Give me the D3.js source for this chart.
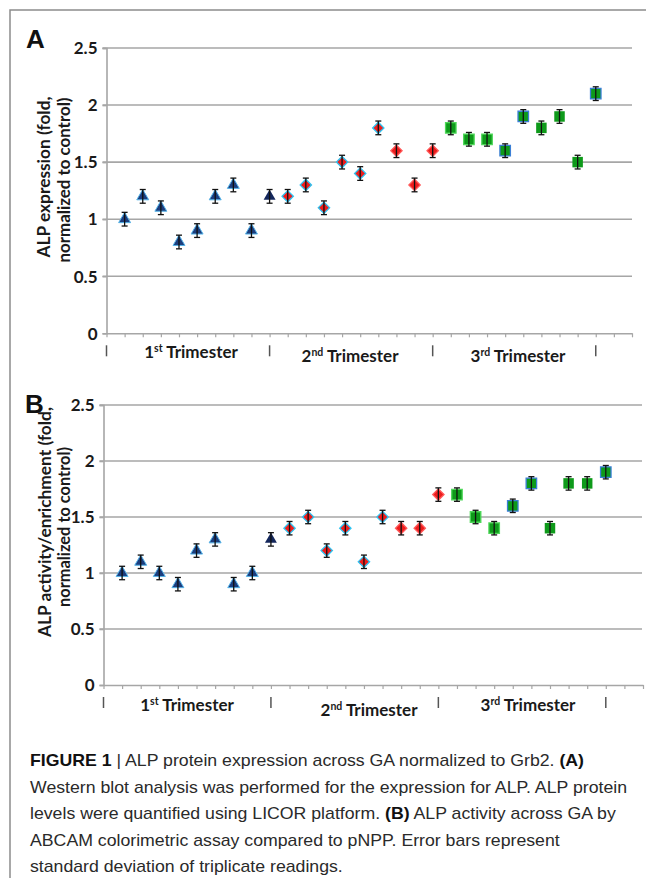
<!DOCTYPE html>
<html>
<head>
<meta charset="utf-8">
<script src="https://cdn.jsdelivr.net/npm/d3@7"></script>
<style>
  body { margin: 0; background: #fff; }
  .tick-label { font-family: Lato, "DejaVu Sans", sans-serif; font-weight: 700; font-size: 17px; fill: #1a1a1a; }
  .axis-title { font-family: Lato, "DejaVu Sans", sans-serif; font-weight: 700; font-size: 16.5px; fill: #1a1a1a; }
  .tri-label { font-family: Lato, "DejaVu Sans", sans-serif; font-weight: 700; font-size: 17px; fill: #1a1a1a; }
  .panel-letter { font-family: "Liberation Sans", Arial, sans-serif; font-weight: 700; font-size: 26px; fill: #111; }
  .caption { font-family: "Liberation Sans", Arial, sans-serif; font-size: 17px; fill: #2a2a2a; }
</style>
</head>
<body>
<div id="chart"></div>
<script>
// Sample positions along the x axis (one per placenta sample)
var samples = [1, 2, 3, 4, 5, 6, 7, 8, 9, 10, 11, 12, 13, 14, 15, 16, 17, 18, 19, 20, 21, 22, 23, 24, 25, 26, 27];

// Trimester groups: label parts and the sample positions of the separators
var trimesterNames = [["1", "st"], ["2", "nd"], ["3", "rd"]];
var trimesterBreaks = [0, 9, 18, 27];

var yTicks = [0, 0.5, 1, 1.5, 2, 2.5];

// Panel A: ALP expression (fold)
var expressionA = [1.0, 1.2, 1.1, 0.8, 0.9, 1.2, 1.3, 0.9, 1.2,
                   1.2, 1.3, 1.1, 1.5, 1.4, 1.8, 1.6, 1.3, 1.6,
                   1.8, 1.7, 1.7, 1.6, 1.9, 1.8, 1.9, 1.5, 2.1];
var errorA = [0.06, 0.06, 0.06, 0.06, 0.06, 0.06, 0.06, 0.06, 0.06,
              0.06, 0.06, 0.06, 0.06, 0.06, 0.06, 0.06, 0.06, 0.06,
              0.06, 0.06, 0.06, 0.06, 0.06, 0.06, 0.06, 0.06, 0.06];

// Panel B: ALP activity/enrichment (fold)
var activityB = [1.0, 1.1, 1.0, 0.9, 1.2, 1.3, 0.9, 1.0, 1.3,
                 1.4, 1.5, 1.2, 1.4, 1.1, 1.5, 1.4, 1.4, 1.7,
                 1.7, 1.5, 1.4, 1.6, 1.8, 1.4, 1.8, 1.8, 1.9];
var errorB = [0.06, 0.06, 0.06, 0.06, 0.06, 0.06, 0.06, 0.06, 0.06,
              0.06, 0.06, 0.06, 0.06, 0.06, 0.06, 0.06, 0.06, 0.06,
              0.06, 0.06, 0.06, 0.06, 0.06, 0.06, 0.06, 0.06, 0.06];

var captionLines = [
    [["FIGURE 1", true], [" | ALP protein expression across GA normalized to Grb2. ", false], ["(A)", true]],
    [["Western blot analysis was performed for the expression for ALP. ALP protein", false]],
    [["levels were quantified using LICOR platform. ", false], ["(B)", true], [" ALP activity across GA by", false]],
    [["ABCAM colorimetric assay compared to pNPP. Error bars represent", false]],
    [["standard deviation of triplicate readings.", false]]
];

var W = 646, H = 878;

var svg = d3.select("#chart")
    .append("svg")
    .attr("width", W)
    .attr("height", H);

// figure frame (top and left rule)
svg.append("path")
    .attr("d", "M10," + H + "V10H" + W)
    .attr("fill", "none")
    .attr("stroke", "#8c8c8c")
    .attr("stroke-width", 1.5);

// marker look per trimester
function markerFill(i) {
    if (i < 8) return "#1c3d7e";
    if (i < 9) return "#14275c";
    if (i < 18) return "#ee1c1c";
    return "#0e9a1a";
}
function markerStroke(i) {
    if (i < 8) return "#56b4e9";
    if (i < 9) return "none";
    if (i < 15) return "#2ec4f2";
    if (i < 18) return "#ff5a5a";
    if (i < 21) return "#4fd85a";
    if (i < 23 || i === 26) return "#3b7fd6";
    return "none";
}

function drawPanel(cfg) {
    var x = d3.scaleLinear().domain([0, 29]).range([cfg.left, cfg.right]);
    var y = d3.scaleLinear().domain([0, 2.5]).range([cfg.bottom, cfg.top]);

    var g = svg.append("g");

    // gridlines
    g.selectAll(".grid")
        .data(yTicks.filter(function (d) { return d > 0; }))
        .enter().append("line")
        .attr("x1", cfg.left - 4)
        .attr("x2", cfg.gridRight)
        .attr("y1", function (d) { return y(d); })
        .attr("y2", function (d) { return y(d); })
        .attr("stroke", "#a6a6a6")
        .attr("stroke-width", 1.6);

    // y axis
    var yAxis = d3.axisLeft(y).tickValues(yTicks).tickSize(4).tickPadding(5)
        .tickFormat(function (d) { return d3.format("~g")(d); });
    var ya = g.append("g")
        .attr("transform", "translate(" + cfg.left + ",0)")
        .call(yAxis);
    ya.select(".domain").attr("stroke", "#a6a6a6").attr("stroke-width", 1.6);
    ya.selectAll(".tick line").attr("stroke", "#a6a6a6").attr("stroke-width", 1.6);
    ya.selectAll(".tick text").attr("class", "tick-label").attr("dy", "0.34em");

    // x axis with a tick per sample slot
    var xAxis = d3.axisBottom(x).tickValues(d3.range(0, 30)).tickSize(4).tickSizeOuter(0).tickFormat("");
    var xa = g.append("g")
        .attr("transform", "translate(0," + cfg.bottom + ")")
        .call(xAxis);
    xa.select(".domain").attr("stroke", "#a6a6a6").attr("stroke-width", 1.6);
    xa.selectAll(".tick line").attr("stroke", "#a6a6a6").attr("stroke-width", 1.2);

    // trimester separators
    g.selectAll(".sep")
        .data(trimesterBreaks)
        .enter().append("line")
        .attr("x1", function (d) { return x(d); })
        .attr("x2", function (d) { return x(d); })
        .attr("y1", cfg.bottom + 12)
        .attr("y2", cfg.bottom + 23)
        .attr("stroke", "#555")
        .attr("stroke-width", 1.5);

    // trimester labels
    trimesterNames.forEach(function (t, k) {
        var txt = g.append("text")
            .attr("class", "tri-label")
            .attr("x", cfg.labelX[k])
            .attr("y", cfg.labelY[k])
            .attr("text-anchor", "middle");
        txt.append("tspan").text(t[0]);
        txt.append("tspan").attr("font-size", "10.5px").attr("dy", "-6").text(t[1]);
        txt.append("tspan").attr("dy", "6").text(" Trimester");
    });

    // axis title (two lines, rotated)
    cfg.title.forEach(function (line, k) {
        g.append("text")
            .attr("class", "axis-title")
            .attr("transform", "translate(" + cfg.titleX[k] + "," + cfg.titleY[k] + ") rotate(-90)")
            .attr("text-anchor", "middle")
            .attr("textLength", cfg.titleLen[k])
            .attr("lengthAdjust", "spacingAndGlyphs")
            .text(line);
    });

    // panel letter
    g.append("text")
        .attr("class", "panel-letter")
        .attr("x", cfg.letterX)
        .attr("y", cfg.letterY)
        .text(cfg.letter);

    // markers
    var pts = g.selectAll(".pt")
        .data(cfg.values)
        .enter().append("g")
        .attr("transform", function (d, i) {
            return "translate(" + x(samples[i]) + "," + y(d) + ")";
        });

    pts.append("path")
        .attr("d", function (d, i) {
            if (i < 9) return d3.symbol().type(d3.symbolTriangle).size(62)();
            if (i < 18) return d3.symbol().type(d3.symbolSquare).size(64)();
            return d3.symbol().type(d3.symbolSquare).size(110)();
        })
        .attr("transform", function (d, i) { return (i >= 9 && i < 18) ? "rotate(45)" : null; })
        .attr("fill", function (d, i) { return markerFill(i); })
        .attr("stroke", function (d, i) { return markerStroke(i); })
        .attr("stroke-width", function (d, i) { return i < 9 ? 1 : 1.3; });

    // error bars
    var eb = g.selectAll(".eb")
        .data(cfg.values)
        .enter().append("g")
        .attr("stroke", "#111")
        .attr("stroke-width", 1.3);
    eb.append("line")
        .attr("x1", function (d, i) { return x(samples[i]); })
        .attr("x2", function (d, i) { return x(samples[i]); })
        .attr("y1", function (d, i) { return y(d + cfg.errors[i]); })
        .attr("y2", function (d, i) { return y(d - cfg.errors[i]); });
    [1, -1].forEach(function (s) {
        eb.append("line")
            .attr("x1", function (d, i) { return x(samples[i]) - 3; })
            .attr("x2", function (d, i) { return x(samples[i]) + 3; })
            .attr("y1", function (d, i) { return y(d + s * cfg.errors[i]); })
            .attr("y2", function (d, i) { return y(d + s * cfg.errors[i]); });
    });
}

drawPanel({
    letter: "A", letterX: 26, letterY: 48,
    left: 106.5, right: 632, gridRight: 632, top: 48, bottom: 333.3,
    values: expressionA, errors: errorA,
    title: ["ALP expression (fold,", "normalized to control)"],
    titleX: [50, 70], titleY: [177, 180], titleLen: [161, 165],
    labelX: [191, 350, 518], labelY: [358, 362, 362]
});

drawPanel({
    letter: "B", letterX: 25, letterY: 413,
    left: 103.5, right: 643, gridRight: 642, top: 405, bottom: 685,
    values: activityB, errors: errorB,
    title: ["ALP activity/enrichment (fold,", "normalized to control)"],
    titleX: [51, 70], titleY: [522, 527], titleLen: [230, 160],
    labelX: [187, 369, 528], labelY: [711, 716, 711]
});

// caption: one common horizontal squeeze so line 2 spans the same width as in the figure
var capTexts = captionLines.map(function (parts, k) {
    var t = svg.append("text")
        .attr("class", "caption")
        .attr("x", 30)
        .attr("y", 766 + k * 26.5);
    parts.forEach(function (p) {
        t.append("tspan")
            .attr("font-weight", p[1] ? 700 : 400)
            .attr("fill", p[1] ? "#111" : null)
            .text(p[0]);
    });
    return t;
});
var squeeze = 597 / capTexts[1].node().getComputedTextLength();
capTexts.forEach(function (t) {
    var w = t.node().getComputedTextLength();
    t.attr("textLength", w * squeeze).attr("lengthAdjust", "spacingAndGlyphs");
});
</script>
</body>
</html>
